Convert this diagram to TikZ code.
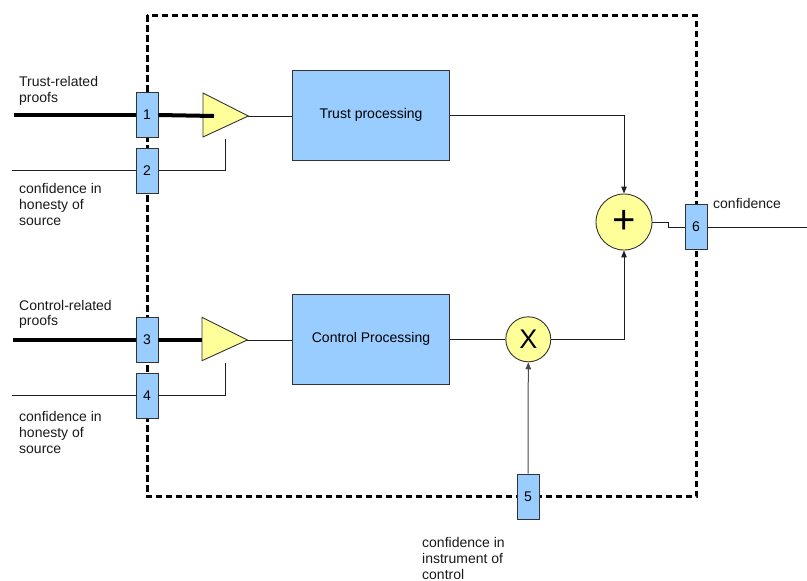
\documentclass[tikz,border=0pt]{standalone}
\usepackage{fontspec}
\setmainfont{Liberation Sans}
\usetikzlibrary{arrows.meta}
\definecolor{portblue}{HTML}{99CCFF}
\definecolor{ampyellow}{HTML}{FFFF99}
\definecolor{edgegray}{HTML}{333333}
\newcommand{\lblfont}{\fontsize{14}{15.8}\selectfont}
\tikzset{
  port/.style={draw=edgegray, line width=0.9pt, fill=portblue, minimum width=22pt,
               minimum height=45pt, inner sep=0pt, font=\lblfont},
  procbox/.style={draw=edgegray, line width=0.9pt, fill=portblue, minimum width=157pt,
                  minimum height=89.5pt, inner sep=0pt, font=\lblfont},
  opcircle/.style={draw=edgegray, line width=0.9pt, fill=ampyellow, circle, inner sep=0pt},
  amp/.style={draw=edgegray, line width=0.9pt, fill=ampyellow, line join=miter},
  wire/.style={draw=black!88, line width=1pt},
  heavywire/.style={draw=black, line width=4pt},
  arrowwire/.style={wire, -{Triangle[length=7pt,width=5.5pt]}},
  % multi-line captions are placed by the baseline of their last line
  caption/.style={font=\lblfont, align=left, inner sep=0pt, anchor=base west, text=black!90},
  boundary/.style={draw=black, line width=3pt, dash pattern=on 6.5pt off 3.5pt}
}
\begin{document}
\begin{tikzpicture}[x=1pt, y=-1pt]
\useasboundingbox (0,0) rectangle (807,581);

% system boundary
\draw[boundary] (147,15) rectangle (696,496.5);

% processing blocks
\node[procbox] (trust) at (371,115.3) {Trust processing};
\node[procbox] (ctrl)  at (371,339.3) {Control Processing};

% combining operators
\node[opcircle, minimum size=56pt] (plus) at (624,222)
  {\fontsize{40}{40}\selectfont\raisebox{1pt}{+}};
\node[opcircle, minimum size=45pt] (times) at (528.3,339.3)
  {\fontsize{27}{27}\selectfont X};

% input gain stages
\draw[amp] (203,93) -- (248.3,116) coordinate (a1tip) -- (203,137) -- cycle;
\draw[amp] (202,317.3) -- (247.3,340) coordinate (a2tip) -- (202,360.7) -- cycle;
\coordinate (a1in)  at (214,116);
\coordinate (a1ctl) at (225.7,138.5);
\coordinate (a2in)  at (202,339.5);
\coordinate (a2ctl) at (225,363);

% ports
\node[port] (p1) at (147,115)   {1};
\node[port] (p2) at (147,170.5) {2};
\node[port] (p3) at (147,339.5) {3};
\node[port] (p4) at (147,395.5) {4};
\node[port] (p5) at (528,496.5) {5};
\node[port] (p6) at (696,227)   {6};

% free ends of the external wires
\coordinate (in1) at (14,115);
\coordinate (in2) at (12,170.5);
\coordinate (in3) at (13,339.5);
\coordinate (in4) at (12,395.5);
\coordinate (out) at (807,227);

% trust branch
\draw[heavywire] (in1) -- (p1.west);
\draw[heavywire] (p1.east) -- (a1in);
\draw[wire] (in2) -- (p2.west);
\draw[wire] (p2.east) -| (a1ctl);
\draw[wire] (a1tip) -- (trust.west |- a1tip);

% control branch
\draw[heavywire] (in3) -- (p3.west);
\draw[heavywire] (p3.east) -- (a2in);
\draw[wire] (in4) -- (p4.west);
\draw[wire] (p4.east) -| (a2ctl);
\draw[wire] (a2tip) -- (ctrl.west |- a2tip);
\draw[wire] (ctrl.east) -- (times.west);
\draw[arrowwire, draw=black!70] (p5.north) -- (times.south);

% combination and output
\draw[arrowwire] (trust.east) -| (plus.north);
\draw[arrowwire] (times.east) -| (plus.south);
\draw[wire] (plus.east) -- ++(16,0) |- (p6.west);
\draw[wire] (p6.east) -- (out);

% labels
\node[caption] (lab1) at (19,102.3)  {Trust-related\\proofs};
\node[caption] (lab2) at (19,225)    {confidence in\\honesty of\\source};
\node[caption] (lab3) at (19,325.8)  {Control-related\\proofs};
\node[caption] (lab4) at (19,453)    {confidence in\\honesty of\\source};
\node[caption] (lab5) at (422,579.3) {\fontsize{14}{15.2}\selectfont confidence in\\instrument of\\control};
\node[caption] (lab6) at (713,208)   {confidence};
\end{tikzpicture}
\end{document}
